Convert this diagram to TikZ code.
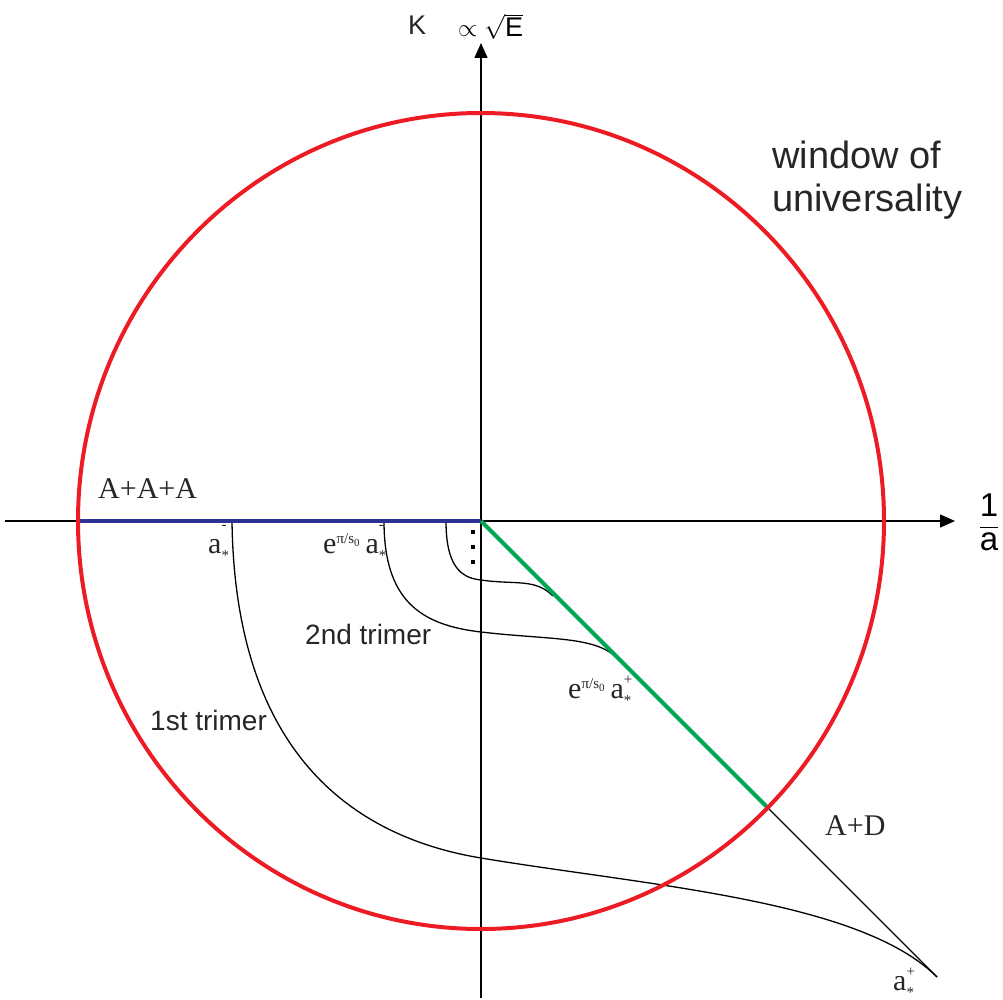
\documentclass[tikz,border=0pt]{standalone}
\usepackage{fontspec}
\setmainfont{Liberation Serif}
\setsansfont{Liberation Sans}
\usetikzlibrary{arrows.meta}
\definecolor{cred}{HTML}{ED1C24}
\definecolor{cblue}{HTML}{2E3192}
\definecolor{cgreen}{HTML}{00A651}
\newcommand{\supsm}{\fontsize{15}{15}\selectfont}
\newcommand{\epis}{e\raisebox{10pt}{\supsm π/s\raisebox{-3pt}{\fontsize{11}{11}\selectfont 0}}}
\newcommand{\astr}[2]{a\rlap{\raisebox{#2}{\supsm #1}}\raisebox{-7pt}{\supsm *}}
\begin{document}
\begin{tikzpicture}[x=1pt,y=-1pt,
  axis/.style={line width=1.4pt,-{Triangle[length=15pt,width=13pt]}},
  thinline/.style={line width=1.3pt},
  blueline/.style={line width=4pt,cblue},
  greenline/.style={line width=4pt,cgreen},
  redline/.style={line width=4pt,cred},
  seriflbl/.style={font=\fontsize{30}{36}\selectfont,inner sep=0pt,anchor=base west,text=black!85},
  sanslbl/.style={font=\sffamily\fontsize{28}{34}\selectfont,inner sep=0pt,anchor=base west,text=black!85},
  dot/.style={fill=black,minimum size=4pt,inner sep=0pt}]
\useasboundingbox (0,0) rectangle (1003,1000);
% key points
\coordinate (O) at (481,521);
\coordinate (xs) at (5,521);
\coordinate (xe) at (955,521);
\coordinate (ys) at (481,998);
\coordinate (ye) at (481,43);
\coordinate (L) at (78,521);
\coordinate (G) at (767.7,807.7);
\coordinate (T) at (937,977);
\coordinate (s1) at (232,521);
\coordinate (s2) at (384,521);
\coordinate (s3) at (446,521);
\coordinate (c1) at (481,858);
\coordinate (c2) at (481,632);
\coordinate (c3) at (481,580);
\coordinate (m2) at (617,658);
\coordinate (m3) at (553,596);
% axes
\draw[axis] (xs) -- (xe);
\draw[axis] (ys) -- (ye);
% line to A+D
\draw[thinline] (G) -- (T);
% trimer curves
\draw[thinline] (s1) .. controls (235,760) and (360,838) .. (c1)
                     .. controls (650,886) and (860,900) .. (T);
\draw[thinline] (s2) .. controls (384,600) and (420,625) .. (c2)
                     .. controls (550,640) and (595,636) .. (m2);
\draw[thinline] (s3) .. controls (446,565) and (460,578) .. (c3)
                     .. controls (515,585) and (535,578) .. (m3);
% dots
\node[dot] (d1) at (473,532) {};
\node[dot] (d2) at (473,547) {};
\node[dot] (d3) at (473,562) {};
% coloured lines
\draw[blueline] (L) -- (O);
\draw[greenline] (O) -- (G);
\draw[redline] (O) ellipse [x radius=403, y radius=408];
% labels
\node[sanslbl,font=\sffamily\fontsize{27}{30}\selectfont] (klbl) at (408,35) {K};
\node[inner sep=0pt,anchor=base west,font=\fontsize{27}{30}\selectfont] (prop) at (458,37) {$\propto\sqrt{\textsf{E}}$};
\node[inner sep=0pt,font=\fontsize{33}{36}\selectfont] (frac) at (989,522) {$\displaystyle\frac{\textsf{1}}{\textsf{a}}$};
\node[sanslbl,font=\sffamily\fontsize{38}{43}\selectfont,align=left] (win) at (772,212) {window of\\universality};
\node[seriflbl] (aaa) at (98,498) {A+A+A};
\node[seriflbl] (ad) at (825,835) {A+D};
\node[seriflbl] (am1) at (208,553) {\astr{-}{24pt}};
\node[seriflbl] (am2) at (323,553) {\epis\hspace{6pt}\astr{-}{24pt}};
\node[seriflbl] (ap2) at (568,698) {\epis\hspace{6pt}\astr{+}{14pt}};
\node[seriflbl] (ap1) at (893,990) {\astr{+}{14pt}};
\node[sanslbl] (tr2) at (305,644) {2nd trimer};
\node[sanslbl] (tr1) at (150,730) {1st trimer};
\end{tikzpicture}
\end{document}
